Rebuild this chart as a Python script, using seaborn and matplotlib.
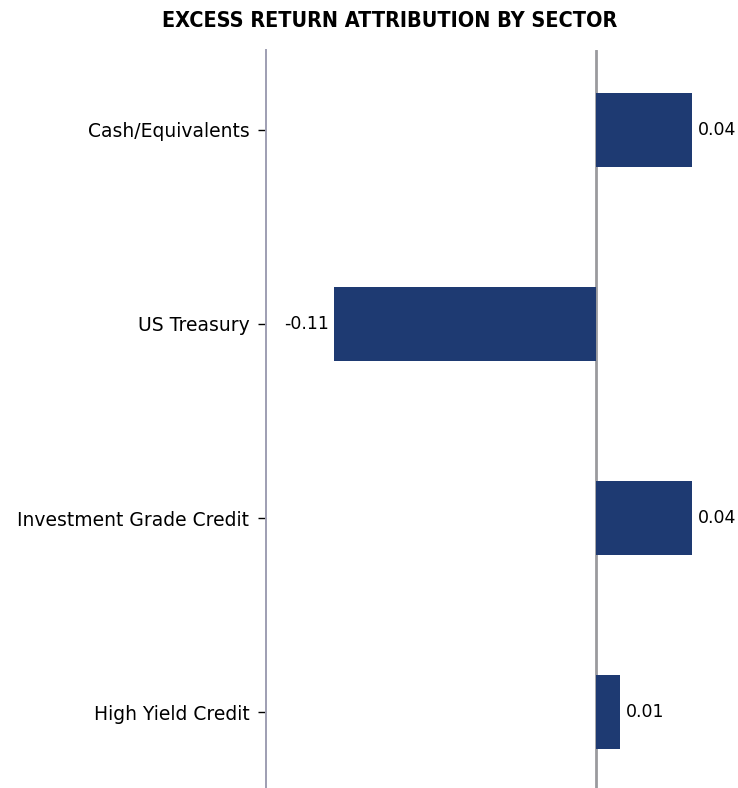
import matplotlib
matplotlib.use("Agg")
import matplotlib.pyplot as plt
import seaborn as sns
import pandas as pd

# Datos del gráfico
sectores = ["Cash/Equivalents", "US Treasury", "Investment Grade Credit", "High Yield Credit"]
exceso = [0.04, -0.109, 0.04, 0.01]
titulo = "EXCESS RETURN ATTRIBUTION BY SECTOR"

df = pd.DataFrame({"sector": sectores, "valor": exceso})

sns.set_style("white")
plt.rcParams["font.family"] = ["DejaVu Sans"]
plt.rcParams["text.color"] = "black"

fig = plt.figure(figsize=(7.38, 7.88), dpi=100)
ax = fig.add_axes([0.3604, 0.0, 0.6396, 0.9365])

sns.barplot(data=df, x="valor", y="sector", orient="h", color="#1e3a72",
            width=0.38, saturation=1, linewidth=0, ax=ax)

ax.set_xlim(-0.1375, 0.0592)
ax.set_ylim(3.39, -0.41)
ax.axvline(0, color="#9a9a9e", linewidth=2, zorder=0)

for s in ["top", "right", "bottom"]:
    ax.spines[s].set_visible(False)
ax.spines["left"].set_color("#9e9eb2")
ax.spines["left"].set_linewidth(1.4)

ax.set_xticks([])
ax.set_xlabel("")
ax.set_ylabel("")
ax.tick_params(axis="y", left=True, length=6, width=1, color="black",
               labelsize=13.5, labelcolor="black", pad=6)

for cont in ax.containers:
    ax.bar_label(cont, fmt="%.2f", padding=4, fontsize=12.5, color="black")

fig.text(0.528, 0.973, titulo, ha="center", va="center", fontsize=15.5,
         fontweight="bold", fontstretch="condensed", color="black")

fig.savefig("out.png", dpi=100)
